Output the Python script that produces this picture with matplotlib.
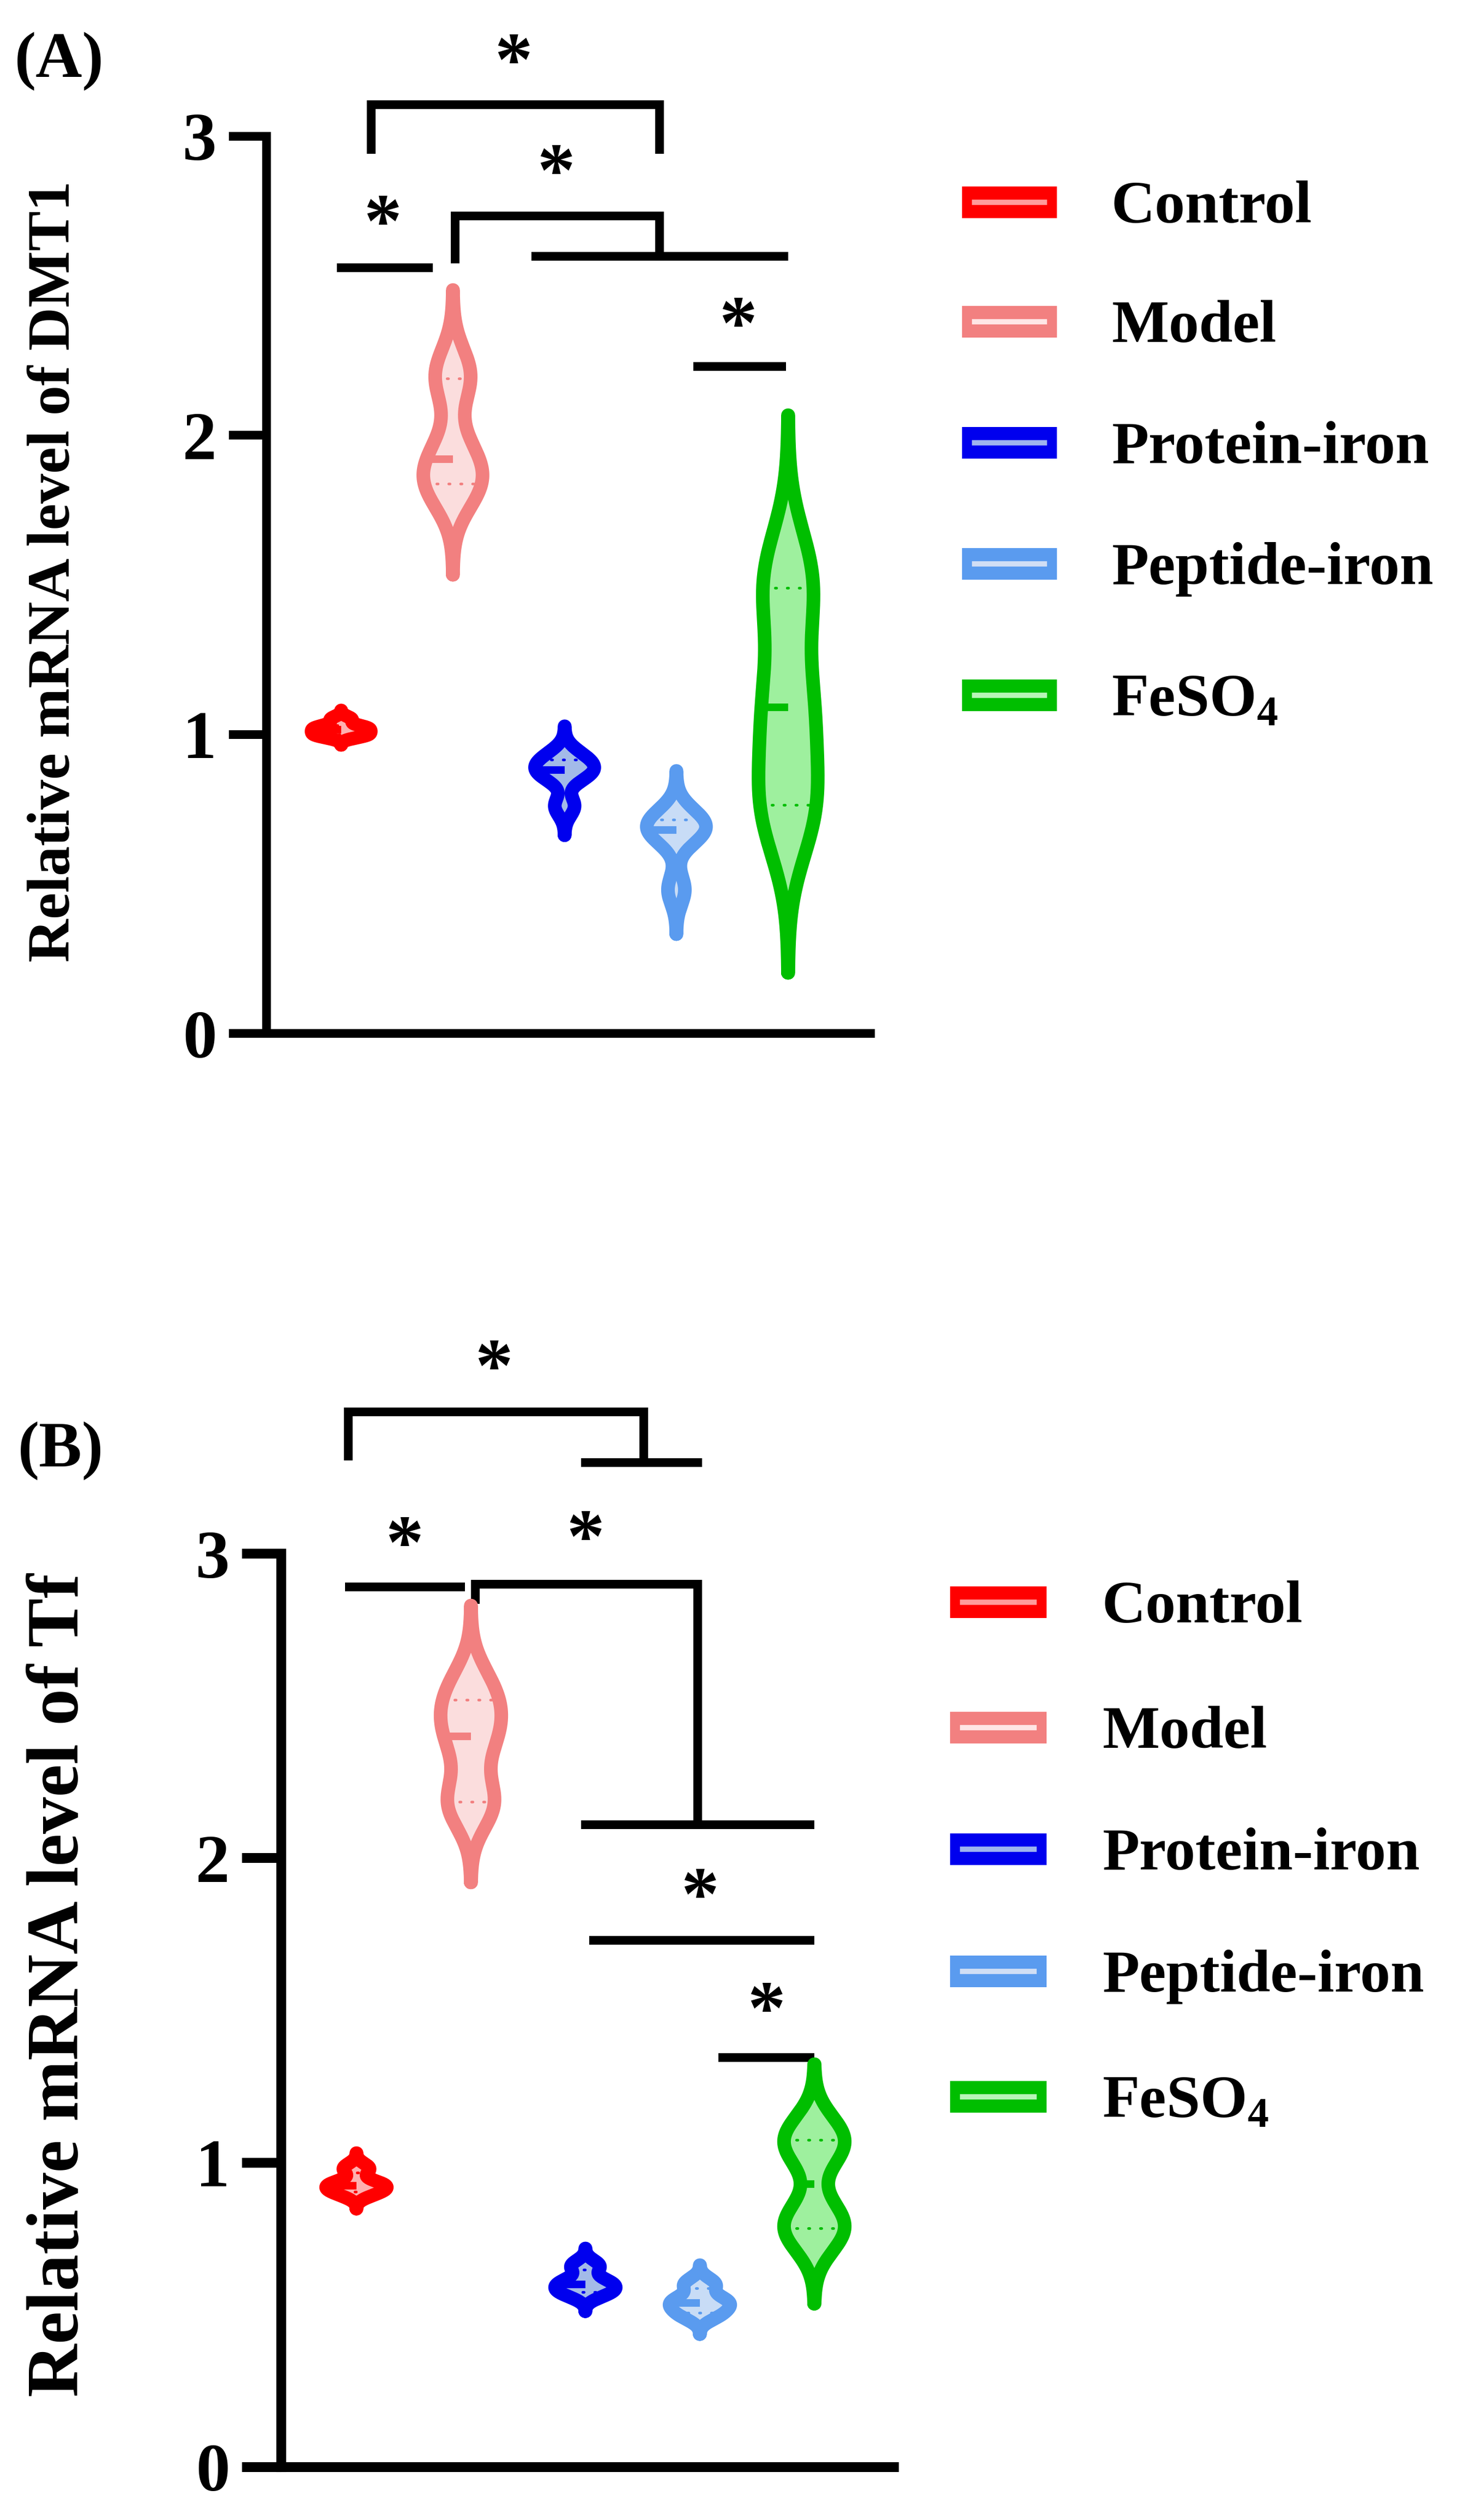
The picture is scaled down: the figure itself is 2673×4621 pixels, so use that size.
import numpy as np
import matplotlib
matplotlib.use('Agg')
import matplotlib.pyplot as plt
from matplotlib.patches import Rectangle
from matplotlib.lines import Line2D

plt.rcParams['font.family'] = ['Liberation Serif', 'DejaVu Serif']
plt.rcParams['font.weight'] = 'bold'
plt.rcParams['mathtext.fontset'] = 'custom'
plt.rcParams['mathtext.rm'] = 'Liberation Serif:bold'
plt.rcParams['mathtext.bf'] = 'Liberation Serif:bold'

# ---- data ----
groups = ['Control', 'Model', 'Protein-iron', 'Peptide-iron', 'FeSO$_4$']
edge_colors = ['#FF0000', '#F28080', '#0000EE', '#5A9BEF', '#00BE00']
fill_colors = ['#FFB0B0', '#FBDDDD', '#A3BAE8', '#C8DCF6', '#9EF09E']
legend_line = ['#FF9C9C', '#FFE6E6', '#9FB4EE', '#D0DEF5', '#B8F5B8']

# relative mRNA level of DMT1 (panel A)
dmt1_control = [0.995, 1.00, 1.01, 1.02, 1.025, 1.05]
dmt1_model = [1.80, 1.85, 1.88, 1.96, 2.18, 2.22]
dmt1_protein = [0.76, 0.86, 0.88, 0.90, 0.93]
dmt1_peptide = [0.48, 0.66, 0.68, 0.70, 0.73]
dmt1_feso4 = [0.72, 0.78, 1.02, 1.16, 1.47, 1.55]

# relative mRNA level of Tf (panel B)
tf_control = [0.90, 0.92, 0.93, 0.98]
tf_model = [2.17, 2.19, 2.36, 2.44, 2.50, 2.58]
tf_protein = [0.57, 0.59, 0.61, 0.66]
tf_peptide = [0.50, 0.53, 0.55, 0.60]
tf_feso4 = [0.78, 0.80, 1.06, 1.08]

# significance lines (x in group units, y in data units) and stars
brackets_a = [
    ([1.27, 1.27, 3.85, 3.85], [2.957, 3.105, 3.105, 2.957]),
    ([1.0, 1.78], [2.56, 2.56]),
    ([2.02, 2.02, 3.85, 3.85], [2.59, 2.734, 2.734, 2.599]),
    ([2.74, 4.96], [2.599, 2.599]),
    ([4.19, 4.94], [2.23, 2.23]),
]
stars_a = [(2.54, 3.29), (1.37, 2.75), (2.92, 2.92), (4.55, 2.41)]

brackets_b = [
    ([0.93, 0.93, 3.51, 3.51], [3.32, 3.466, 3.466, 3.30]),
    ([3.0, 3.98], [3.30, 3.30]),
    ([0.94, 1.91], [2.89, 2.89]),
    ([2.04, 2.04, 3.98, 3.98], [2.85, 2.90, 2.90, 2.11]),
    ([3.0, 4.96], [2.11, 2.11]),
    ([3.07, 4.96], [1.73, 1.73]),
    ([4.2, 4.96], [1.345, 1.345]),
]
stars_b = [(2.20, 3.65), (1.42, 3.07), (3.0, 3.09), (4.0, 1.915), (4.58, 1.54)]

W, H = 2673, 4621
fig = plt.figure(figsize=(W / 100, H / 100), dpi=100)

BW = 0.5      # kde bandwidth factor (times sample sd)
CUT = 3.0     # tail extension in bandwidths
HALF = 0.265  # max half width of a violin (group units)


def kde(vals):
    v = np.asarray(vals, float)
    h = BW * v.std(ddof=1)
    y = np.linspace(v.min() - CUT * h, v.max() + CUT * h, 300)
    d = np.exp(-0.5 * ((y[:, None] - v[None, :]) / h) ** 2).sum(axis=1)
    return y, d / d.max()


def violin(ax, pos, vals, ec, fc):
    y, d = kde(vals)
    hw = HALF * d
    ax.fill_betweenx(y, pos - hw, pos + hw, color=fc, lw=0, zorder=2)
    q1, q3 = np.percentile(vals, [25, 75], method='weibull')
    for q in (q1, q3):
        hq = np.interp(q, y, hw)
        ax.plot([pos - hq, pos + hq], [q, q], color=ec, lw=3.5,
                ls=(0, (0.5, 4)), dash_capstyle='round', zorder=3)
    m = np.median(vals)
    hm = np.interp(m, y, hw)
    ax.plot([pos - hm, pos], [m, m], color=ec, lw=10,
            solid_capstyle='butt', zorder=3)
    xs = np.concatenate([pos - hw, (pos + hw)[::-1], [pos - hw[0]]])
    ys = np.concatenate([y, y[::-1], [y[0]]])
    ax.plot(xs, ys, color=ec, lw=18, solid_joinstyle='round',
            solid_capstyle='round', zorder=4, clip_on=False)


def panel(rect, xlim, data, brackets, stars, lw, ticklen):
    ax = fig.add_axes(rect)
    for i, vals in enumerate(data):
        violin(ax, i + 1, vals, edge_colors[i], fill_colors[i])
    ax.set_xlim(*xlim)
    ax.set_ylim(0, 3)
    ax.set_yticks([0, 1, 2, 3])
    ax.set_xticks([])
    for s in ['top', 'right']:
        ax.spines[s].set_visible(False)
    for s in ['left', 'bottom']:
        ax.spines[s].set_linewidth(lw)
        ax.spines[s].set_capstyle('projecting')
    ax.tick_params(axis='y', length=ticklen, width=lw, pad=16, labelsize=90)
    for lab in ax.get_yticklabels():
        lab.set_fontweight('bold')
    for xs, ys in brackets:
        ax.plot(xs, ys, color='black', lw=11.5, solid_capstyle='projecting',
                solid_joinstyle='miter', clip_on=False)
    for x, y in stars:
        ax.annotate('*', xy=(x, y), xytext=(0, -0.47 * 100), textcoords='offset points',
                    ha='center', va='baseline', fontsize=100, fontweight='bold',
                    annotation_clip=False)
    return ax


def legend(rows, px0, px1, tx, fs):
    for cy, name, ec, lc in zip(rows, groups, edge_colors, legend_line):
        fig.add_artist(Rectangle((px0 / W, 1 - (cy + 29) / H), (px1 - px0) / W, 58 / H,
                                 transform=fig.transFigure, facecolor=ec, edgecolor='none'))
        fig.add_artist(Line2D([(px0 + 23) / W, (px1 - 23) / W], [1 - cy / H] * 2,
                              transform=fig.transFigure, color=lc, lw=7))
        fig.text(tx / W, 1 - (cy + 0.33 * fs * 100 / 72) / H, name, fontsize=fs,
                 fontweight='bold', ha='left', va='baseline')


# panel A
panel([489 / W, 1 - 1895 / H, 1108 / W, 1645 / H], (0.332, 5.737),
      [dmt1_control, dmt1_model, dmt1_protein, dmt1_peptide, dmt1_feso4],
      brackets_a, stars_a, 11.5, 50)
fig.text(100 / W, 1 - 1048 / H, 'Relative mRNA level of DMT1', rotation=90,
         fontsize=79, fontweight='bold', ha='center', va='center')
fig.text(27 / W, 1 - 112 / H, '(A)', fontsize=85, fontweight='bold', ha='left', va='center')
legend([371, 590, 812, 1034, 1275], 1765, 1939, 2039, 80)

# panel B
panel([516 / W, 1 - 4524 / H, 1124 / W, 1675 / H], (0.343, 5.695),
      [tf_control, tf_model, tf_protein, tf_peptide, tf_feso4],
      brackets_b, stars_b, 13, 52)
fig.text(111 / W, 1 - 3640 / H, 'Relative mRNA level of Tf', rotation=90,
         fontsize=97, fontweight='bold', ha='center', va='center')
fig.text(33 / W, 1 - 2660 / H, '(B)', fontsize=85, fontweight='bold', ha='left', va='center')
legend([2938, 3168, 3391, 3615, 3845], 1743, 1920, 2022, 80)

fig.savefig('out.png', dpi=100)
